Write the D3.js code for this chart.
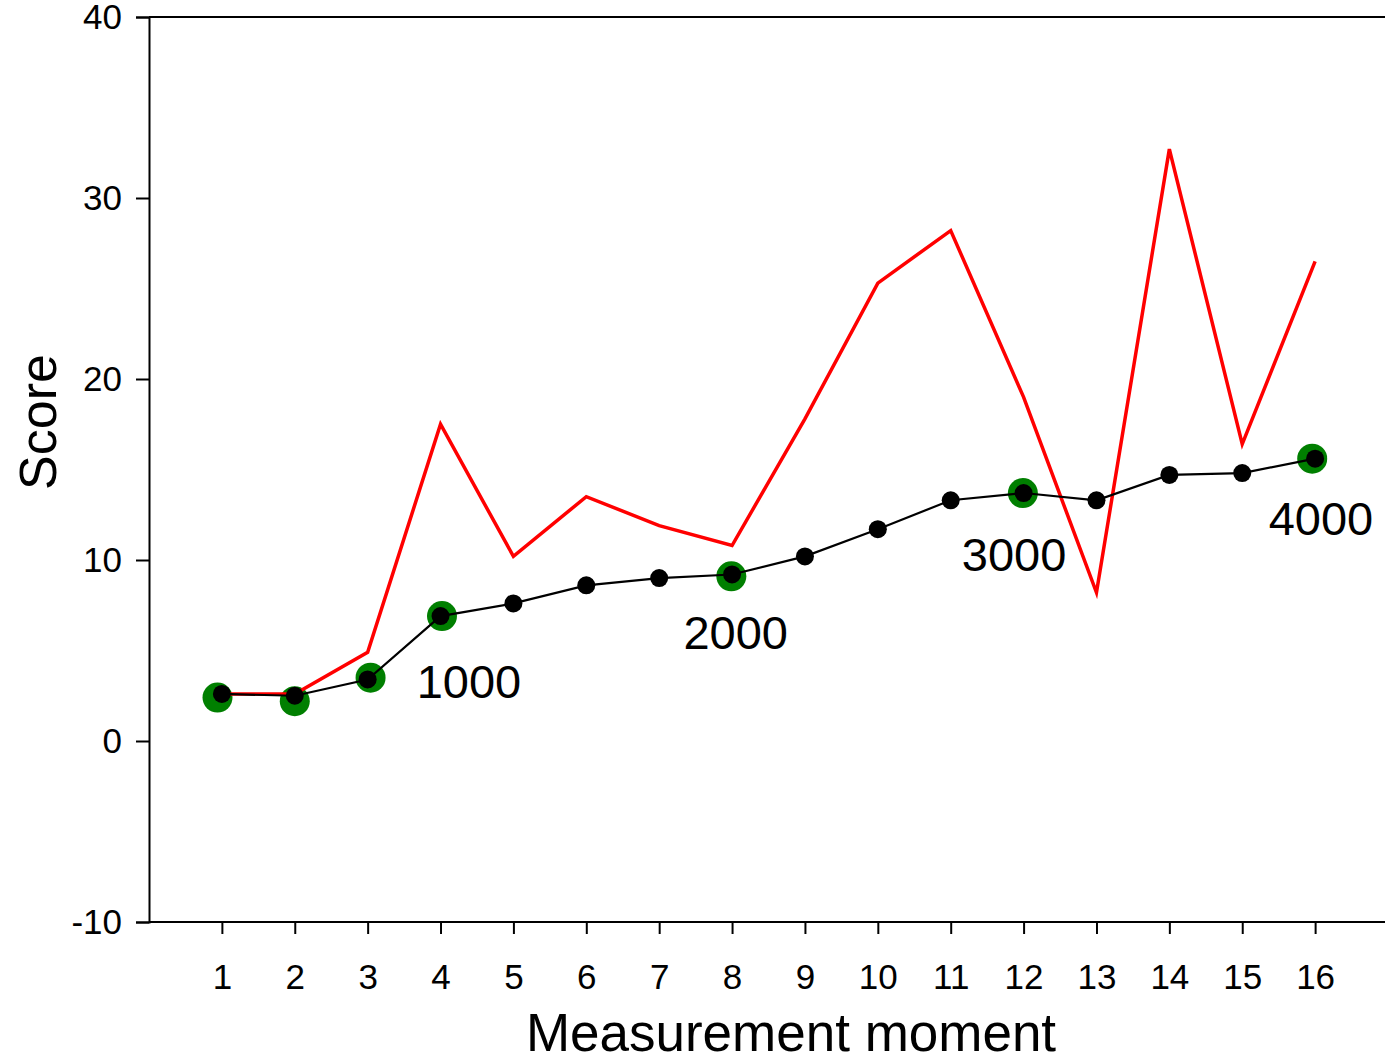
<!DOCTYPE html>
<html>
<head>
<meta charset="utf-8">
<script src="https://cdn.jsdelivr.net/npm/d3@7"></script>
<style>
  body { margin: 0; background: #fff; }
  text { font-family: "Liberation Sans", Arial, sans-serif; }
</style>
</head>
<body>
<div id="chart-container"></div>
<script>
const svgWidth = 1385,
    svgHeight = 1059;

// data
const moments = [1, 2, 3, 4, 5, 6, 7, 8, 9, 10, 11, 12, 13, 14, 15, 16];
const blackScores = [2.6, 2.5, 3.4, 6.9, 7.6, 8.6, 9.0, 9.2, 10.2, 11.7, 13.3, 13.7, 13.3, 14.7, 14.8, 15.6];
const redScores = [2.6, 2.6, 4.9, 17.5, 10.2, 13.5, 11.9, 10.8, 17.8, 25.3, 28.2, 19.0, 8.2, 32.7, 16.4, 26.5];
const greenX = [0.94, 2.0, 3.04, 4.02, 7.99, 11.99, 15.96];
const greenY = [2.4, 2.2, 3.5, 6.9, 9.1, 13.7, 15.6];
const labelText = ["1000", "2000", "3000", "4000"];
const labelX = [4.39, 8.05, 11.87, 16.08];
const labelY = [2.4, 5.1, 9.4, 11.4];
const yTicks = [-10, 0, 10, 20, 30, 40];

var svg = d3.select("#chart-container").append("svg")
    .attr("width", svgWidth)
    .attr("height", svgHeight);

let xScale = d3.scaleLinear().domain([0, 17]).range([149, 1388]),
    yScale = d3.scaleLinear().domain([-10, 40]).range([922, 17]);

// top frame line
svg.append("line")
    .attr("x1", 149).attr("x2", svgWidth)
    .attr("y1", yScale(40)).attr("y2", yScale(40))
    .attr("stroke", "#000").attr("stroke-width", 2);

// axes
let xAxis = svg.append("g")
    .attr("transform", "translate(0," + yScale(-10) + ")")
    .call(d3.axisBottom(xScale).tickValues(moments).tickSizeOuter(0).tickSize(12).tickPadding(30));
xAxis.select(".domain").attr("d", "M149,0H" + svgWidth).attr("stroke-width", 2);
xAxis.selectAll(".tick line").attr("stroke-width", 2);
xAxis.selectAll("text").attr("font-size", 35).attr("font-family", "Liberation Sans, Arial, sans-serif").attr("fill", "#000");

let yAxis = svg.append("g")
    .attr("transform", "translate(149,0)")
    .call(d3.axisLeft(yScale).tickValues(yTicks).tickFormat((d) => String(d))
        .tickSizeOuter(0).tickSize(13).tickPadding(14));
yAxis.select(".domain").attr("stroke-width", 2);
yAxis.selectAll(".tick line").attr("stroke-width", 2);
yAxis.selectAll("text").attr("font-size", 35).attr("font-family", "Liberation Sans, Arial, sans-serif").attr("fill", "#000");

// axis titles
svg.append("text")
    .attr("x", 791).attr("y", 1051)
    .attr("text-anchor", "middle")
    .attr("font-size", 53)
    .text("Measurement moment");

svg.append("text")
    .attr("transform", "translate(56,422) rotate(-90)")
    .attr("text-anchor", "middle")
    .attr("font-size", 52)
    .text("Score");

// green markers
svg.selectAll("circle.green")
    .data(greenX.map((x, i) => ({ x: x, y: greenY[i] })))
    .join("circle")
    .attr("class", "green")
    .attr("cx", (d) => xScale(d.x))
    .attr("cy", (d) => yScale(d.y))
    .attr("r", 15)
    .attr("fill", "#007f00");

// red line
let line = d3.line()
    .x((d) => xScale(d.x))
    .y((d) => yScale(d.y));

svg.append("path")
    .datum(moments.map((m, i) => ({ x: m, y: redScores[i] })))
    .attr("d", line)
    .attr("fill", "none")
    .attr("stroke", "#ff0000")
    .attr("stroke-width", 3.5);

// black line with dots
let blackData = moments.map((m, i) => ({ x: m, y: blackScores[i] }));
svg.append("path")
    .datum(blackData)
    .attr("d", line)
    .attr("fill", "none")
    .attr("stroke", "#000")
    .attr("stroke-width", 2.2);

svg.selectAll("circle.black")
    .data(blackData)
    .join("circle")
    .attr("class", "black")
    .attr("cx", (d) => xScale(d.x))
    .attr("cy", (d) => yScale(d.y))
    .attr("r", 9)
    .attr("fill", "#000");

// annotations
svg.selectAll("text.label")
    .data(labelText)
    .join("text")
    .attr("class", "label")
    .attr("x", (d, i) => xScale(labelX[i]))
    .attr("y", (d, i) => yScale(labelY[i]))
    .attr("text-anchor", "middle")
    .attr("font-size", 47)
    .text((d) => d);
</script>
</body>
</html>
